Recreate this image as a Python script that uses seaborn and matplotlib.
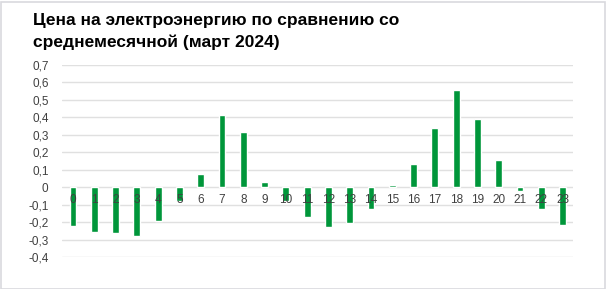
import matplotlib
matplotlib.use("Agg")
import matplotlib.pyplot as plt
import seaborn as sns
import pandas as pd
from matplotlib.patches import Rectangle

hours = [str(h) for h in range(24)]
values = [-0.222, -0.256, -0.262, -0.279, -0.193, -0.08, 0.075, 0.413, 0.317, 0.029,
          -0.08, -0.17, -0.228, -0.205, -0.124, 0.011, 0.132, 0.338, 0.556, 0.39,
          0.155, -0.021, -0.124, -0.216]
yticks = [-0.4, -0.3, -0.2, -0.1, 0, 0.1, 0.2, 0.3, 0.4, 0.5, 0.6, 0.7]
ytick_labels = ["-0,4", "-0,3", "-0,2", "-0,1", "0", "0,1", "0,2", "0,3", "0,4", "0,5", "0,6", "0,7"]
title = "Цена на электроэнергию по сравнению со\nсреднемесячной (март 2024)"

sns.set_theme(style="white")
plt.rcParams['font.family'] = ['Liberation Sans', 'DejaVu Sans']

df = pd.DataFrame({"hour": hours, "value": values})

fig = plt.figure(figsize=(6.06, 2.89), dpi=100)
ax = fig.add_axes([62.4/606, 1-257/289, (573.2-62.4)/606, (257-65)/289])
sns.barplot(data=df, x="hour", y="value", color="#00963a", saturation=1, width=0.32, ax=ax)

ax.set_ylim(-0.4, 0.7)
ax.set_xlim(-0.5, 23.5)
ax.set_yticks(yticks)
ax.set_yticklabels(ytick_labels)
ax.yaxis.grid(True, color="#e0e0e0", linewidth=1)
ax.set_axisbelow(True)
for s in ["top", "right", "left", "bottom"]:
    ax.spines[s].set_visible(False)
ax.set_xticks(range(len(hours)))
ax.set_xticklabels([])
ax.tick_params(axis="x", length=0)
ax.tick_params(axis="y", length=0, pad=10, labelsize=8.5, colors="#404040")
ax.set_xlabel("")
ax.set_ylabel("")

for i, h in enumerate(hours):
    ax.annotate(h, xy=(i, 0), xytext=(0, -5), textcoords="offset points",
                ha="center", va="top", fontsize=8.5, color="#404040", zorder=5)

fig.text(33/606, 1-13.5/289, title, ha="left", va="top", fontsize=12.5, fontweight="bold",
         color="#000000", linespacing=1.5)

fig.patches.append(Rectangle((0.5/606, 0.5/289), 604/606, 287/289, transform=fig.transFigure,
                             fill=False, edgecolor="#d9d9de", linewidth=1.2))

fig.savefig("out.png", dpi=100)
